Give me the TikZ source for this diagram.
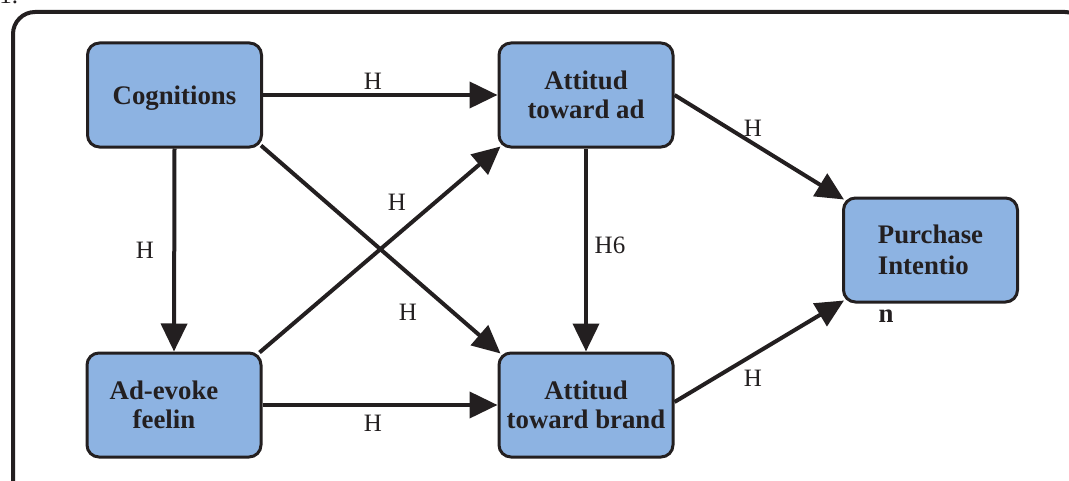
\documentclass[tikz,border=0pt]{standalone}
\usepackage{fontspec}
\setmainfont{Liberation Serif}
\usetikzlibrary{arrows.meta,calc}
\definecolor{boxfill}{HTML}{8DB3E2}
\definecolor{ink}{HTML}{231F20}
\tikzset{
  box/.style={draw=ink, fill=boxfill, line width=1.5pt, rounded corners=6pt,
    minimum width=87pt, minimum height=52pt, inner sep=0pt, text depth=0pt,
    font=\fontsize{13.4pt}{14.5pt}\selectfont\bfseries, text=ink, align=center},
  conn/.style={draw=ink, line width=2pt, -{Triangle[length=14pt,width=13pt]}},
  lbl/.style={font=\fontsize{12.5pt}{14pt}\selectfont, text=ink, inner sep=0pt},
  frame/.style={draw=ink, line width=2pt, rounded corners=11pt}
}
\begin{document}
\begin{tikzpicture}[x=0.5pt,y=-0.5pt]
\useasboundingbox (0,0) rectangle (1069,481);
\draw[frame] (13,12) rectangle (1087,505);
\node[lbl, anchor=base west] (num) at (-1,4) {1.};

\node[box] (cog) at (174.5,95) {Cognitions};
\node[box] (att) at (586,95) {Attitud\\toward ad};
\node[box] (feel) at (174,405) {Ad-evoke\hspace*{10pt}\\feelin\hspace*{10pt}};
\node[box] (brand) at (586,405) {Attitud\\toward brand};
\node[box, align=left, font=\fontsize{13.4pt}{15.5pt}\selectfont\bfseries] (pi) at (930.5,250) {Purchase\\Intentio};
\node[lbl, font=\fontsize{13.4pt}{14pt}\selectfont\bfseries] (piN) at (886,316) {n};

\draw[conn] (cog.east) -- (att.west);
\draw[conn] (cog.south) -- (feel.north);
\draw[conn] ($(cog.south east)+(-2,-3)$) -- ($(brand.north west)+(3,2)$);
\draw[conn] ($(feel.north east)+(-3,1)$) -- ($(att.south west)+(3,-2)$);
\draw[conn] (feel.east) -- (brand.west);
\draw[conn] (att.south) -- (brand.north);
\draw[conn] (att.east) -- ($(pi.north west)+(2,3)$);
\draw[conn] ($(brand.east)+(0,-3)$) -- ($(pi.south west)+(2,-3)$);

\node[lbl] (h1) at (373,81) {H};
\node[lbl] (h2) at (145,250) {H};
\node[lbl] (h3) at (397,202) {H};
\node[lbl] (h4) at (408,312) {H};
\node[lbl] (h5) at (373,423) {H};
\node[lbl] (h6) at (610,245) {H6};
\node[lbl] (h7) at (753,128) {H};
\node[lbl] (h8) at (753,378) {H};
\end{tikzpicture}
\end{document}
